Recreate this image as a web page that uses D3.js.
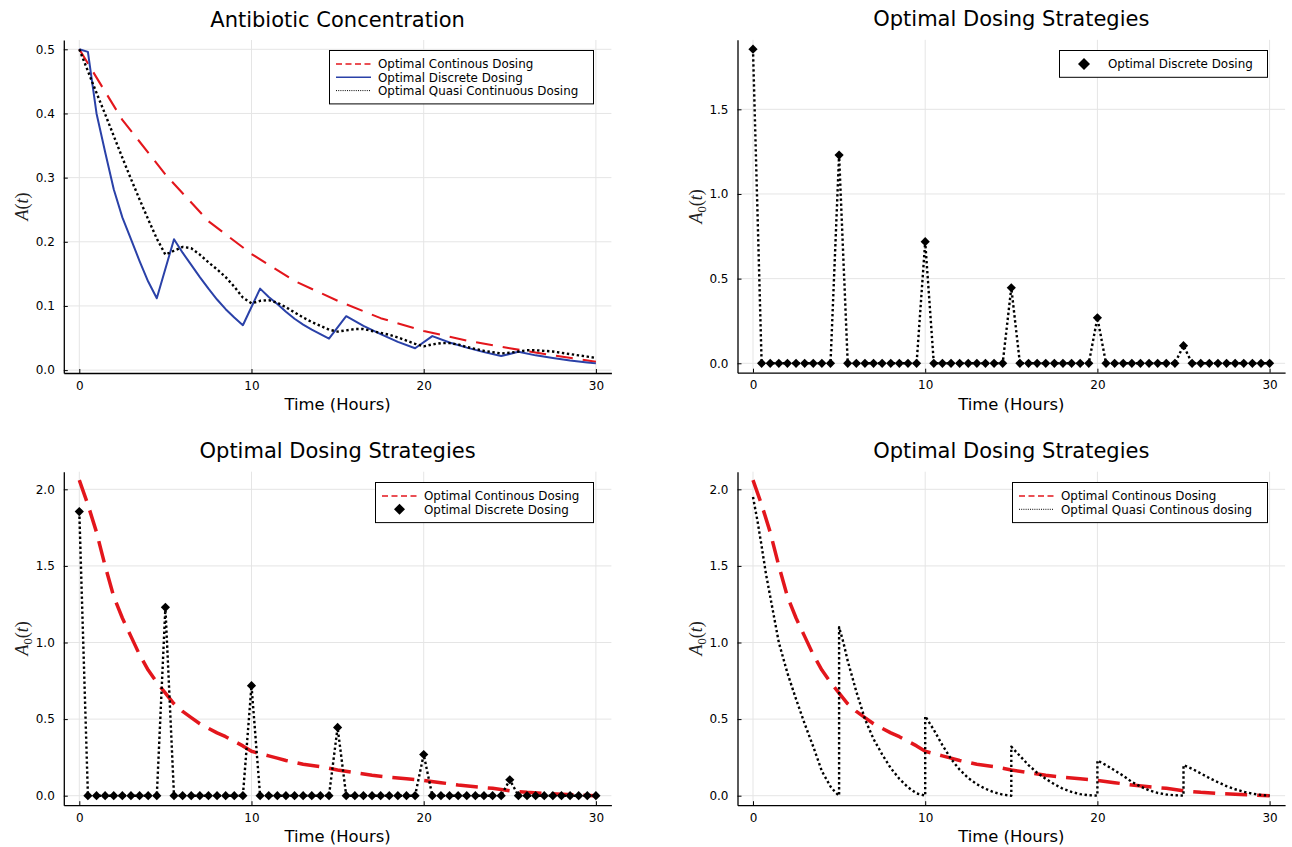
<!DOCTYPE html>
<html>
<head>
<meta charset="utf-8">
<script src="https://cdn.jsdelivr.net/npm/d3@7"></script>
<style>
  body { margin: 0; background: #fff; }
  svg { font-family: "DejaVu Sans", sans-serif; }
</style>
</head>
<body>
<svg id="chart" width="1292" height="847"></svg>
<script>
// ---------- data ----------
// panel 1 : A(t)
const contT = [0, 2.5, 5, 7.5, 10, 12.5, 15, 17.5, 20, 22.5, 25, 27.5, 30];
const contA = [0.5, 0.39, 0.305, 0.232, 0.181, 0.139, 0.108, 0.081, 0.061, 0.046, 0.034, 0.023, 0.013];

const discT = [0, 0.5, 1, 1.5, 2, 2.5, 3, 3.5, 4, 4.5,
  5.5, 6, 6.5, 7, 7.5, 8, 8.5, 9, 9.5,
  10.5, 11, 11.5, 12, 12.5, 13, 13.5, 14, 14.5,
  15.5, 16.5, 17.5, 18.5, 19.5,
  20.5, 21.5, 22.5, 23.5, 24.5,
  25.5, 26.5, 27.5, 28.5, 29.5, 30];
const discA = [0.5, 0.496, 0.40, 0.34, 0.282, 0.238, 0.204, 0.17, 0.138, 0.112,
  0.204, 0.183, 0.164, 0.145, 0.127, 0.11, 0.095, 0.082, 0.07,
  0.127, 0.114, 0.103, 0.091, 0.08, 0.071, 0.063, 0.056, 0.049,
  0.084, 0.069, 0.056, 0.044, 0.034,
  0.053, 0.043, 0.035, 0.028, 0.022,
  0.0285, 0.023, 0.019, 0.015, 0.012, 0.0105];

const halfHours = [0, 0.5, 1, 1.5, 2, 2.5, 3, 3.5, 4, 4.5, 5, 5.5, 6, 6.5, 7, 7.5, 8, 8.5, 9, 9.5,
  10, 10.5, 11, 11.5, 12, 12.5, 13, 13.5, 14, 14.5, 15, 15.5, 16, 16.5, 17, 17.5, 18, 18.5, 19, 19.5,
  20, 20.5, 21, 21.5, 22, 22.5, 23, 23.5, 24, 24.5, 25, 25.5, 26, 26.5, 27, 27.5, 28, 28.5, 29, 29.5, 30];

const quasiA = [0.5, 0.466, 0.432, 0.399, 0.365, 0.331, 0.298, 0.266, 0.235, 0.205,
  0.18, 0.186, 0.192, 0.19, 0.18, 0.168, 0.157, 0.145, 0.13, 0.113,
  0.104, 0.108, 0.109, 0.105, 0.098, 0.09, 0.082, 0.075, 0.069, 0.063,
  0.06, 0.062, 0.064, 0.064, 0.061, 0.058, 0.055, 0.051, 0.046, 0.041,
  0.037, 0.04, 0.042, 0.042, 0.04, 0.036, 0.033, 0.03, 0.028, 0.026,
  0.027, 0.029, 0.031, 0.031, 0.03, 0.029, 0.027, 0.025, 0.023, 0.021, 0.019];

// panels 2,3 : discrete doses A0
const doseA = [1.855, 0, 0, 0, 0, 0, 0, 0, 0, 0,
  1.23, 0, 0, 0, 0, 0, 0, 0, 0, 0,
  0.718, 0, 0, 0, 0, 0, 0, 0, 0, 0,
  0.446, 0, 0, 0, 0, 0, 0, 0, 0, 0,
  0.269, 0, 0, 0, 0, 0, 0, 0, 0, 0,
  0.104, 0, 0, 0, 0, 0, 0, 0, 0, 0, 0];

// panels 3,4 : continuous A0
const contA0T = [0, 0.5, 1, 1.5, 2, 2.5, 3, 3.5, 4, 4.5, 5, 5.5, 6, 6.5, 7, 7.5, 8, 8.5, 9, 9.5,
  10, 10.5, 11, 11.5, 12, 13, 14, 15, 16, 17, 18, 19, 20, 21, 22, 23, 24, 25, 26, 27, 28, 29, 30];
const contA0 = [2.06, 1.9, 1.72, 1.5, 1.3, 1.16, 1.04, 0.92, 0.82, 0.74,
  0.67, 0.6, 0.55, 0.51, 0.47, 0.44, 0.41, 0.385, 0.355, 0.325,
  0.29, 0.275, 0.26, 0.245, 0.23, 0.205, 0.19, 0.168, 0.15, 0.133,
  0.12, 0.11, 0.10, 0.085, 0.07, 0.058, 0.048, 0.032, 0.022, 0.015, 0.01, 0.005, 0.0];

// panel 4 : quasi continuous A0
const quasiA0T = [0, 0.25, 0.5, 0.75, 1, 1.5, 2, 2.5, 3, 3.5, 4, 4.5, 4.8, 5,
  5, 5.25, 5.5, 6, 6.5, 7, 7.5, 8, 8.5, 9, 9.5, 10,
  10, 10.5, 11, 11.5, 12, 12.5, 13, 13.5, 14, 14.5, 15,
  15, 15.5, 16, 16.5, 17, 17.5, 18, 18.5, 19, 19.5, 20,
  20, 20.5, 21, 21.5, 22, 22.5, 23, 23.5, 24, 24.5, 25,
  25, 25.5, 26, 26.5, 27, 27.5, 28, 28.5, 29, 29.5, 30];
const quasiA0 = [1.95, 1.8, 1.63, 1.45, 1.3, 1.0, 0.8, 0.63, 0.47, 0.32, 0.16, 0.06, 0.02, 0,
  1.1, 1.0, 0.88, 0.68, 0.5, 0.37, 0.27, 0.18, 0.11, 0.055, 0.015, 0,
  0.52, 0.43, 0.33, 0.24, 0.17, 0.115, 0.075, 0.045, 0.022, 0.007, 0,
  0.32, 0.26, 0.2, 0.15, 0.11, 0.075, 0.045, 0.025, 0.01, 0.003, 0,
  0.23, 0.2, 0.165, 0.13, 0.09, 0.06, 0.035, 0.018, 0.008, 0.003, 0,
  0.2, 0.175, 0.146, 0.115, 0.088, 0.062, 0.042, 0.026, 0.013, 0.005, 0];

const xTicks = [0, 10, 20, 30];

// ---------- styles ----------
const RED = '#e3161c';
const BLUE = '#2a41a8';
const svg = d3.select('#chart');

const zip = (t, v) => t.map((d, i) => [d, v[i]]);
const diamond = r => `M0,${-r}L${r},0L0,${r}L${-r},0Z`;

const styles = {
  dash:  { color: RED, width: 2.1, dash: '17,10' },
  dashW: { color: RED, width: 3.5, dash: '22,10' },
  line:  { color: BLUE, width: 2, dash: null },
  dot:   { color: '#000', width: 2.4, dash: '2.4,2.6' }
};

// ---------- panels ----------
const panels = [
  {
    title: 'Antibiotic Concentration', xr: [63.8, 611.4], yr: [373, 40],
    yd: [-0.0045, 0.5145], yTicks: [0, 0.1, 0.2, 0.3, 0.4, 0.5], sub: false,
    series: [
      { data: zip(contT, contA), st: 'dash' },
      { data: zip(discT, discA), st: 'line' },
      { data: zip(halfHours, quasiA), st: 'dot' }
    ],
    legend: { x: 329, y: 50, w: 264, items: [
      { st: 'dash', label: 'Optimal Continous Dosing' },
      { st: 'line', label: 'Optimal Discrete Dosing' },
      { st: 'dot', label: 'Optimal Quasi Continuous Dosing' }
    ] }
  },
  {
    title: 'Optimal Dosing Strategies', xr: [737.5, 1285.1], yr: [372.7, 39.8],
    yd: [-0.0556, 1.9106], yTicks: [0, 0.5, 1, 1.5], sub: true,
    series: [
      { data: zip(halfHours, doseA), st: 'dot', markers: true }
    ],
    legend: { x: 1059, y: 50, w: 208, items: [
      { st: 'diamond', label: 'Optimal Discrete Dosing' }
    ] }
  },
  {
    title: 'Optimal Dosing Strategies', xr: [63.8, 611.4], yr: [805.2, 471.7],
    yd: [-0.062, 2.115], yTicks: [0, 0.5, 1, 1.5, 2], sub: true,
    series: [
      { data: zip(contA0T, contA0), st: 'dashW' },
      { data: zip(halfHours, doseA), st: 'dot', markers: true }
    ],
    legend: { x: 375, y: 482, w: 218, items: [
      { st: 'dash', label: 'Optimal Continous Dosing' },
      { st: 'diamond', label: 'Optimal Discrete Dosing' }
    ] }
  },
  {
    title: 'Optimal Dosing Strategies', xr: [737.5, 1285.1], yr: [805.2, 471.7],
    yd: [-0.062, 2.115], yTicks: [0, 0.5, 1, 1.5, 2], sub: true,
    series: [
      { data: zip(contA0T, contA0), st: 'dashW' },
      { data: zip(quasiA0T, quasiA0), st: 'dot' }
    ],
    legend: { x: 1012, y: 482, w: 255, items: [
      { st: 'dash', label: 'Optimal Continous Dosing' },
      { st: 'dot', label: 'Optimal Quasi Continous dosing' }
    ] }
  }
];

function drawPanel(p) {
  const g = svg.append('g');
  const x = d3.scaleLinear().domain([-0.9, 30.9]).range(p.xr);
  const y = d3.scaleLinear().domain(p.yd).range(p.yr);

  // grid
  const grid = g.append('g').attr('stroke', '#e5e5e5').attr('stroke-width', 1);
  grid.selectAll('.gx').data(xTicks).join('line')
    .attr('x1', d => x(d)).attr('x2', d => x(d))
    .attr('y1', p.yr[0]).attr('y2', p.yr[1]);
  grid.selectAll('.gy').data(p.yTicks).join('line')
    .attr('x1', p.xr[0]).attr('x2', p.xr[1])
    .attr('y1', d => y(d)).attr('y2', d => y(d));

  // series
  const line = d3.line().x(d => x(d[0])).y(d => y(d[1]));
  p.series.forEach(s => {
    const st = styles[s.st];
    g.append('path')
      .attr('d', line(s.data))
      .attr('fill', 'none')
      .attr('stroke', st.color)
      .attr('stroke-width', st.width)
      .attr('stroke-dasharray', st.dash)
      .attr('stroke-linejoin', 'round');
    if (s.markers) {
      g.append('g').selectAll('path').data(s.data).join('path')
        .attr('transform', d => `translate(${x(d[0])},${y(d[1])})`)
        .attr('d', diamond(4.6))
        .attr('fill', '#000');
    }
  });

  // axes
  const ax = g.append('g').attr('transform', `translate(0,${p.yr[0]})`)
    .call(d3.axisBottom(x).tickValues(xTicks).tickFormat(d3.format('d'))
      .tickSizeInner(-4).tickSizeOuter(0).tickPadding(8));
  const ay = g.append('g').attr('transform', `translate(${p.xr[0]},0)`)
    .call(d3.axisLeft(y).tickValues(p.yTicks).tickFormat(d3.format('.1f'))
      .tickSizeInner(-4).tickSizeOuter(0).tickPadding(9));
  [ax, ay].forEach(a => {
    a.select('.domain').attr('stroke', '#000').attr('stroke-width', 1.3);
    a.selectAll('.tick line').attr('stroke', '#000').attr('stroke-width', 1);
    a.selectAll('.tick text').attr('font-size', 12).attr('fill', '#000')
      .attr('font-family', '"DejaVu Sans", sans-serif');
  });

  const cx = (p.xr[0] + p.xr[1]) / 2;
  const cy = (p.yr[0] + p.yr[1]) / 2;

  // title
  g.append('text')
    .attr('x', cx).attr('y', p.yr[1] - 13.5)
    .attr('text-anchor', 'middle').attr('font-size', 21).attr('fill', '#000')
    .text(p.title);

  // x label
  g.append('text')
    .attr('x', cx).attr('y', p.yr[0] + 37)
    .attr('text-anchor', 'middle').attr('font-size', 16.4).attr('fill', '#000')
    .text('Time (Hours)');

  // y label (math style)
  const yl = g.append('text')
    .attr('transform', `translate(${p.xr[0] - 36},${cy}) rotate(-90)`)
    .attr('text-anchor', 'middle')
    .attr('font-family', '"Liberation Serif", serif')
    .attr('font-size', 18).attr('fill', '#222');
  yl.append('tspan').attr('font-style', 'italic').text('A');
  if (p.sub) {
    yl.append('tspan').attr('font-size', 12.5).attr('dy', 4).text('0');
    yl.append('tspan').attr('dy', -4).text('(');
  } else {
    yl.append('tspan').text('(');
  }
  yl.append('tspan').attr('font-style', 'italic').text('t');
  yl.append('tspan').text(')');

  // legend
  const L = p.legend;
  const rowH = 13.3;
  const lg = g.append('g');
  lg.append('rect')
    .attr('x', L.x + 0.5).attr('y', L.y + 0.5)
    .attr('width', L.w).attr('height', L.items.length * rowH + 13.5)
    .attr('fill', '#fff').attr('stroke', '#000').attr('stroke-width', 1);
  const single = L.items.length === 1;
  L.items.forEach((it, i) => {
    const ry = L.y + 14 + i * rowH;
    const x0 = L.x + 7, x1 = L.x + 42;
    if (it.st === 'diamond') {
      const mx = single ? L.x + 25 : (x0 + x1) / 2;
      lg.append('path').attr('transform', `translate(${mx},${ry})`)
        .attr('d', diamond(single ? 6 : 5.5)).attr('fill', '#000');
    } else {
      const st = styles[it.st];
      lg.append('line')
        .attr('x1', x0).attr('x2', x1).attr('y1', ry).attr('y2', ry)
        .attr('stroke', st.color)
        .attr('stroke-width', it.st === 'dot' ? 1 : 1.6)
        .attr('stroke-dasharray', it.st === 'dot' ? '1,1.2' : (st.dash ? '6,3.5' : null));
    }
    lg.append('text')
      .attr('x', L.x + 49).attr('y', ry + 4.3)
      .attr('font-size', 11.9).attr('fill', '#000')
      .text(it.label);
  });
}

panels.forEach(drawPanel);
</script>
</body>
</html>
